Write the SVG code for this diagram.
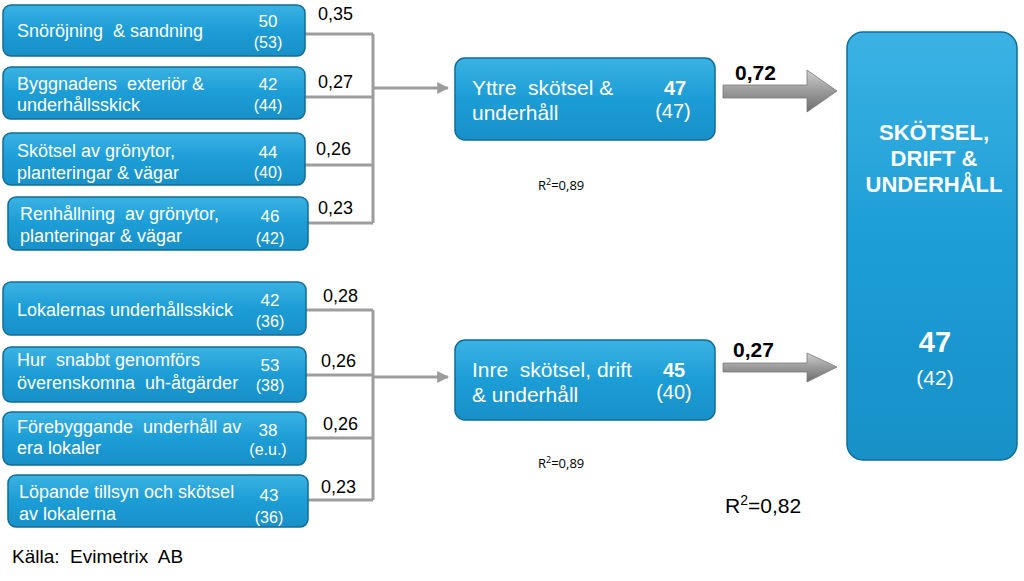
<svg xmlns="http://www.w3.org/2000/svg" width="1024" height="581" viewBox="0 0 1024 581">
<defs>
<linearGradient id="bg" x1="0" y1="0" x2="0" y2="1">
<stop offset="0" stop-color="#3bb2e3"/>
<stop offset="0.5" stop-color="#1c9dd6"/>
<stop offset="1" stop-color="#1890c8"/>
</linearGradient>
<linearGradient id="ag" x1="0" y1="0" x2="0" y2="1">
<stop offset="0" stop-color="#d0d0d0"/>
<stop offset="0.5" stop-color="#9a9a9a"/>
<stop offset="1" stop-color="#6e6e6e"/>
</linearGradient>
<marker id="ah" viewBox="0 0 10 10" refX="9" refY="5" markerWidth="4" markerHeight="4" orient="auto" markerUnits="strokeWidth">
<path d="M0,0 L10,5 L0,10 z" fill="#9d9d9d"/>
</marker>
</defs>
<style>
.box{fill:url(#bg);stroke:#0f6d98;stroke-width:1.5}
.t{font-family:"Liberation Sans",Arial,sans-serif;fill:#fff;font-size:18px}
.n{font-family:"Liberation Sans",Arial,sans-serif;fill:#fff;font-size:17px;text-anchor:middle}
.p{font-size:16px}
.m{font-family:"Liberation Sans",Arial,sans-serif;fill:#fff;font-size:21px}
.mn{font-family:"Liberation Sans",Arial,sans-serif;fill:#fff;font-size:20px;text-anchor:middle}
.b{font-weight:bold}
.lbl{font-family:"Liberation Sans",Arial,sans-serif;fill:#000;font-size:18px}
.big{font-size:21px}
.ln{fill:none;stroke:#9d9d9d;stroke-width:3}
.r2{font-family:"Open Sans","Liberation Sans",sans-serif;fill:#000;font-size:13px}
</style>
<rect width="1024" height="581" fill="#fff"/>

<g id="connectors">
<path class="ln" d="M305,34 H373 M305,97 H373 M305,165 H373 M308,223 H373 M373,34 V223"/>
<path class="ln" d="M373,88 H448" marker-end="url(#ah)"/>
<path class="ln" d="M306,310 H373 M306,375 H373 M306,438 H373 M308,500 H373 M373,310 V500"/>
<path class="ln" d="M373,377 H448" marker-end="url(#ah)"/>
<text class="lbl" x="318" y="20">0,35</text>
<text class="lbl" x="318" y="88">0,27</text>
<text class="lbl" x="316" y="155">0,26</text>
<text class="lbl" x="318" y="214">0,23</text>
<text class="lbl" x="323" y="302">0,28</text>
<text class="lbl" x="321" y="367">0,26</text>
<text class="lbl" x="323" y="430">0,26</text>
<text class="lbl" x="321" y="493">0,23</text>
<path d="M723,85 H807 V70 L837,91 L807,112 V98 H723 z" fill="url(#ag)" stroke="#7a7a7a" stroke-width="0.8"/>
<path d="M723,363 H807 V353 L837,367 L807,382 V372 H723 z" fill="url(#ag)" stroke="#7a7a7a" stroke-width="0.8"/>
<text class="lbl b big" x="735" y="80">0,72</text>
<text class="lbl b big" x="733" y="357">0,27</text>
</g>

<g id="n1"><rect class="box" x="3" y="5" width="302" height="51" rx="8"/>
<text class="t" x="17" y="37" xml:space="preserve">Snöröjning  &amp; sandning</text>
<text class="n" x="268" y="27">50</text><text class="n p" x="268" y="48">(53)</text></g>

<g id="n2"><rect class="box" x="3" y="67" width="302" height="52" rx="8"/>
<text class="t" x="17" y="90" xml:space="preserve">Byggnadens  exteriör &amp;</text>
<text class="t" x="17" y="111">underhållsskick</text>
<text class="n" x="268" y="90">42</text><text class="n p" x="268" y="111">(44)</text></g>

<g id="n3"><rect class="box" x="3" y="133" width="302" height="52" rx="8"/>
<text class="t" x="17" y="157">Skötsel av grönytor,</text>
<text class="t" x="17" y="179">planteringar &amp; vägar</text>
<text class="n" x="268" y="158">44</text><text class="n p" x="268" y="178">(40)</text></g>

<g id="n4"><rect class="box" x="8" y="197" width="300" height="53" rx="8"/>
<text class="t" x="20" y="220" xml:space="preserve">Renhållning  av grönytor,</text>
<text class="t" x="20" y="242">planteringar &amp; vägar</text>
<text class="n" x="270" y="222">46</text><text class="n p" x="270" y="244">(42)</text></g>

<g id="n5"><rect class="box" x="3" y="282" width="303" height="53" rx="8"/>
<text class="t" x="17" y="316">Lokalernas underhållsskick</text>
<text class="n" x="270" y="306">42</text><text class="n p" x="270" y="327">(36)</text></g>

<g id="n6"><rect class="box" x="3" y="347" width="303" height="55" rx="8"/>
<text class="t" x="17" y="366" xml:space="preserve">Hur  snabbt genomförs</text>
<text class="t" x="17" y="389" xml:space="preserve">överenskomna  uh-åtgärder</text>
<text class="n" x="270" y="371">53</text><text class="n p" x="270" y="391">(38)</text></g>

<g id="n7"><rect class="box" x="3" y="412" width="303" height="53" rx="8"/>
<text class="t" x="17" y="433" xml:space="preserve">Förebyggande  underhåll av</text>
<text class="t" x="17" y="454">era lokaler</text>
<text class="n" x="268" y="436">38</text><text class="n p" x="268" y="455">(e.u.)</text></g>

<g id="n8"><rect class="box" x="8" y="475" width="300" height="52" rx="8"/>
<text class="t" x="19" y="498">Löpande tillsyn och skötsel</text>
<text class="t" x="19" y="520">av lokalerna</text>
<text class="n" x="269" y="501">43</text><text class="n p" x="269" y="523">(36)</text></g>

<g id="yttre"><rect class="box" x="455" y="58" width="260" height="82" rx="10"/>
<text class="m" x="472" y="95" xml:space="preserve">Yttre  skötsel &amp;</text>
<text class="m" x="472" y="120">underhåll</text>
<text class="mn b" x="675" y="95">47</text><text class="mn" x="673" y="118">(47)</text></g>

<g id="inre"><rect class="box" x="455" y="340" width="260" height="80" rx="10"/>
<text class="m" x="472" y="377" xml:space="preserve">Inre  skötsel, drift</text>
<text class="m" x="472" y="402">&amp; underhåll</text>
<text class="mn b" x="674" y="377">45</text><text class="mn" x="674" y="399">(40)</text></g>

<g id="total"><rect class="box" x="847" y="32" width="170" height="428" rx="16"/>
<text class="mn b" x="934" y="140" style="font-size:22px">SKÖTSEL,</text>
<text class="mn b" x="934" y="166" style="font-size:22px">DRIFT &amp;</text>
<text class="mn b" x="934" y="192" style="font-size:22px">UNDERHÅLL</text>
<text class="mn b" x="935" y="352" style="font-size:29px">47</text>
<text class="mn" x="935" y="385" style="font-size:21px">(42)</text></g>

<g id="stats">
<text class="r2" x="538" y="190">R<tspan style="font-size:9px" dy="-5">2</tspan><tspan dy="5">=0,89</tspan></text>
<text class="r2" x="538" y="468">R<tspan style="font-size:9px" dy="-5">2</tspan><tspan dy="5">=0,89</tspan></text>
<text class="lbl" x="725" y="513" style="font-size:21px">R<tspan style="font-size:14px" dy="-8">2</tspan><tspan dy="8">=0,82</tspan></text>
<text class="lbl" x="12" y="563" style="font-size:19px" xml:space="preserve">Källa:  Evimetrix  AB</text>
</g>
</svg>
